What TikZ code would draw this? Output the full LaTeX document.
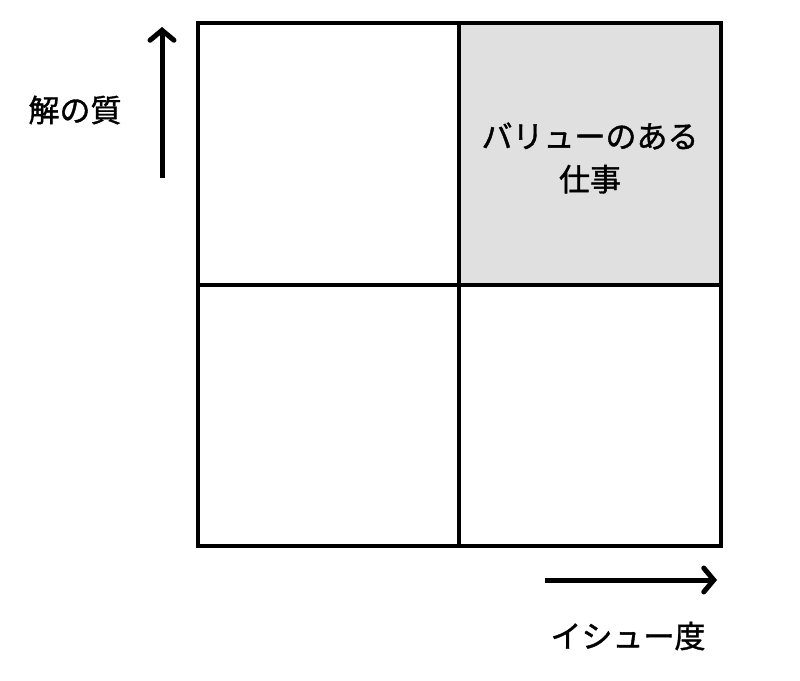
\documentclass[tikz,border=0pt]{standalone}
\usepackage{fontspec}
\setmainfont{Noto Sans CJK JP}[FakeBold=1.2]
\usetikzlibrary{arrows.meta}
\definecolor{cellgray}{HTML}{E0E0E0}
\begin{document}
\begin{tikzpicture}[x=1pt, y=-1pt, every node/.style={font=\fontsize{31}{43}\selectfont}]
        \useasboundingbox (0,0) rectangle (800,680);
        \node[shape=rectangle,draw=black,line width=3.5pt,inner sep=0pt,minimum width=261pt,minimum height=262pt] (tl) at (328.5,154) {};
        \node[shape=rectangle,draw=black,line width=3.5pt,inner sep=0pt,minimum width=262pt,minimum height=262pt,fill=cellgray] (tr) at (590,154) {};
        \node[shape=rectangle,draw=black,line width=3.5pt,inner sep=0pt,minimum width=261pt,minimum height=261pt] (bl) at (328.5,415.5) {};
        \node[shape=rectangle,draw=black,line width=3.5pt,inner sep=0pt,minimum width=262pt,minimum height=261pt] (br) at (590,415.5) {};
        \node[align=center,inner sep=0pt] (value) at (590,158) {バリューのある\\仕事};

        \coordinate (ylow) at (162,178);
        \coordinate (yhigh) at (162,27);
        \coordinate (xlow) at (545,580);
        \coordinate (xhigh) at (717,580);
        \node[] (ylabel) at (75,110) {解の質};
        \node[] (xlabel) at (628,636) {イシュー度};

        \draw[line width=5pt, -{Straight Barb[length=10pt,width=24pt,line cap=round]}] (ylow) -- (yhigh);
        \draw[line width=5pt, -{Straight Barb[length=10pt,width=24pt,line cap=round]}] (xlow) -- (xhigh);
    \end{tikzpicture}
\end{document}
